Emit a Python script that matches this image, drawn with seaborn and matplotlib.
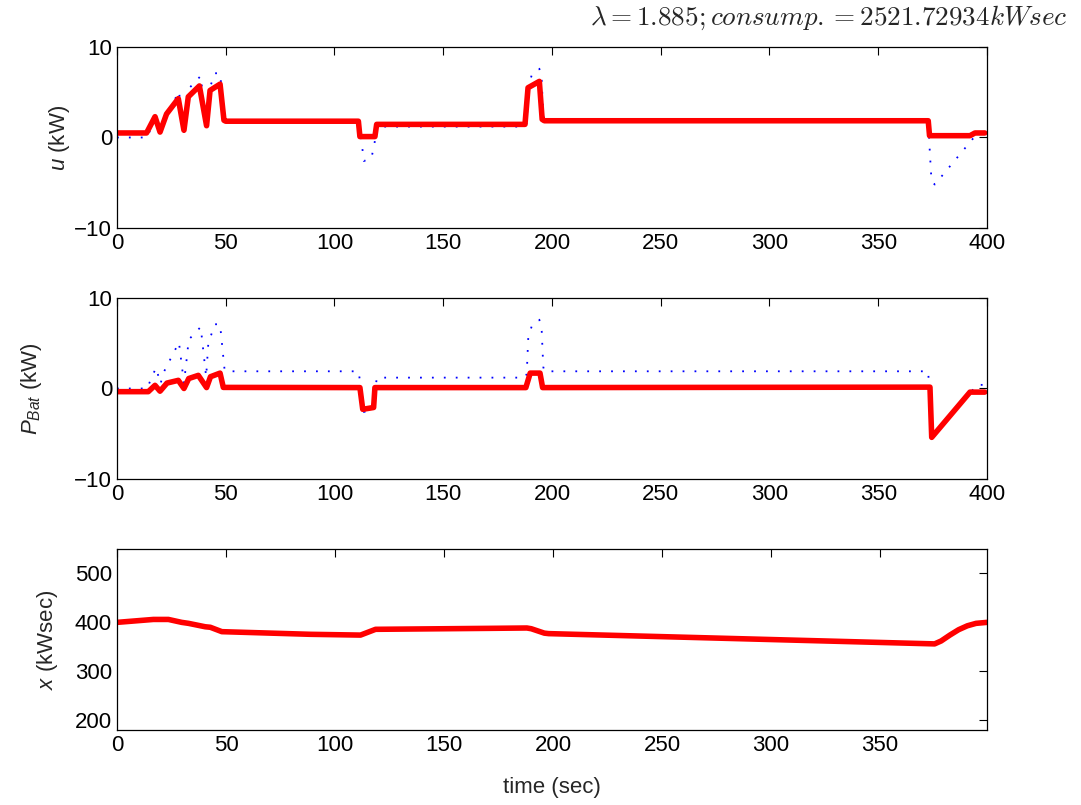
import numpy as np
import pandas as pd
import matplotlib
matplotlib.use("Agg")
import matplotlib.pyplot as plt
import seaborn as sns

# power demand (blue dotted), same series in the first two panels
dem_t = [0, 14, 15.5, 18, 20, 21.5, 28.5, 30.8, 31.8, 33, 38.5, 41, 42, 45, 47.4, 49.5, 50,
         111, 112, 113.5, 117, 118.5, 119.5, 187.5, 188.4, 189.1, 190.7, 194.2, 195.3, 196, 196.5,
         373, 373.5, 374.5, 376, 394, 395, 399]
dem_v = [0.0, 0.0, 1.0, 2.3, 0.5, 1.8, 5.1, 0.6, 2.7, 5.4, 6.8, 1.3, 5.0, 7.1, 7.1, 2.0, 1.9,
         1.9, 0.5, -2.6, -2.3, -0.5, 1.2, 1.2, 1.6, 5.6, 6.9, 7.6, 6.3, 2.4, 1.9,
         1.9, -0.6, -4.8, -5.2, 0.0, 0.4, 0.4]

# engine power u
u_t = [0, 13.6, 17.5, 19.8, 22.8, 28.2, 30.8, 32.8, 37.9, 41.2, 42.8, 47.4, 49.2, 50,
       111, 111.7, 118.6, 119.4, 187.6, 189, 194.2, 195.5, 196.5,
       373, 373.6, 392.2, 394.5, 399]
u_v = [0.5, 0.5, 2.3, 0.6, 2.6, 4.3, 0.8, 4.5, 5.7, 1.3, 5.2, 5.9, 1.9, 1.8,
       1.8, 0.1, 0.1, 1.45, 1.45, 5.5, 6.2, 2.0, 1.85,
       1.85, 0.2, 0.2, 0.5, 0.5]

# battery power
pb_t = [0, 14.4, 17.5, 19.8, 23, 28.2, 30.8, 33, 37.4, 41.2, 43, 47.4, 48.9,
        111.7, 113, 118, 118.6, 188, 190, 194.5, 195.7,
        373.8, 374.6, 392.2, 399]
pb_v = [-0.35, -0.35, 0.35, -0.3, 0.6, 0.9, 0.0, 1.1, 1.45, 0.1, 1.3, 1.7, 0.12,
        0.1, -2.3, -2.1, 0.1, 0.1, 1.7, 1.7, 0.1,
        0.15, -5.4, -0.4, -0.4]

# battery energy x
x_t = [0, 16.7, 23.6, 29.7, 32.8, 40.5, 42.8, 48.1, 88.7, 111.7, 118.6, 171.5, 188, 190,
       196, 198, 375, 378, 382, 386, 390, 394, 399]
x_v = [400, 406, 406, 400, 398, 391, 390, 381, 375.6, 374, 385.8, 387.8, 388.5, 387,
       378, 377, 356, 362, 374, 385, 393, 398, 400]

lam = 1.885
consump = 2521.72934

sns.set_style("white")
plt.rcParams['font.family'] = ['Liberation Sans', 'DejaVu Sans']
plt.rcParams['mathtext.fontset'] = 'custom'
plt.rcParams['mathtext.rm'] = 'Liberation Sans'
plt.rcParams['mathtext.it'] = 'Liberation Sans:italic'
plt.rcParams['mathtext.bf'] = 'Liberation Sans:bold'

fig = plt.figure(figsize=(10.81, 8.05), dpi=100)
left, width, height = 0.1082, 0.8048, 0.2248
ax1 = fig.add_axes([left, 0.7168, width, height])
ax2 = fig.add_axes([left, 0.4050, width, height])
ax3 = fig.add_axes([left, 0.0932, width, height])

red = '#ff0000'
blue = '#0000ff'
dots = (0, (1, 5.6))
lw_red = 4.0
lw_blue = 1.3

sns.lineplot(x=dem_t, y=dem_v, ax=ax1, color=blue, lw=lw_blue, linestyle=dots, sort=False, estimator=None)
sns.lineplot(x=u_t, y=u_v, ax=ax1, color=red, lw=lw_red, sort=False, estimator=None)

sns.lineplot(x=dem_t, y=dem_v, ax=ax2, color=blue, lw=lw_blue, linestyle=dots, sort=False, estimator=None)
sns.lineplot(x=pb_t, y=pb_v, ax=ax2, color=red, lw=lw_red, sort=False, estimator=None)

sns.lineplot(x=x_t, y=x_v, ax=ax3, color=red, lw=lw_red, sort=False, estimator=None)

fs = 16
for ax in (ax1, ax2, ax3):
    ax.set_xlim(0, 400)
    ax.set_xticks(np.arange(0, 401, 50))
    ax.tick_params(direction='in', top=True, right=True, length=6, width=0.8,
                   labelsize=fs, colors='black')
    for s in ax.spines.values():
        s.set_color('black')
        s.set_linewidth(0.9)
    ax.set_xlabel('')

ax1.set_ylim(-10, 10)
ax1.set_yticks([-10, 0, 10])
ax2.set_ylim(-10, 10)
ax2.set_yticks([-10, 0, 10])
ax3.set_xlim(0, 399)
ax3.set_xticks(np.arange(0, 351, 50))
ax3.set_ylim(180, 550)
ax3.set_yticks([200, 300, 400, 500])

ax1.set_ylabel(r'$u$ (kW)', fontsize=fs)
ax2.set_ylabel(r'$P_{Bat}$ (kW)', fontsize=fs)
ax3.set_ylabel(r'$x$ (kWsec)', fontsize=fs)
ax1.yaxis.set_label_coords(-0.052, 0.5)
ax2.yaxis.set_label_coords(-0.084, 0.5)
ax3.yaxis.set_label_coords(-0.066, 0.5)
ax3.set_xlabel('time (sec)', fontsize=fs, labelpad=15)

fig.text(0.988, 0.978, r'$\lambda = %.3f; consump. = %.5f kWsec$' % (lam, consump),
         ha='right', va='center', fontsize=19.5, math_fontfamily='cm')

fig.savefig('out.png', dpi=100)
